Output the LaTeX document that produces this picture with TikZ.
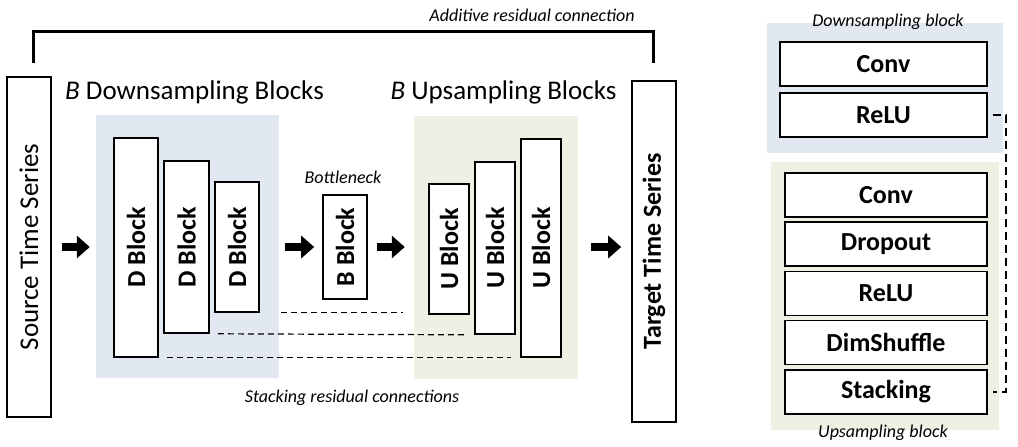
\documentclass[tikz,border=0pt]{standalone}
\usepackage{fontspec}
\setmainfont{Carlito}
\usetikzlibrary{arrows.meta}
\definecolor{dblue}{RGB}{225,232,242}
\definecolor{ugreen}{RGB}{238,240,228}
\tikzset{
  blk/.style={draw, line width=1.6pt, fill=white, inner sep=0pt, font=\fontsize{26}{30}\selectfont\bfseries},
  panel/.style={inner sep=0pt, draw=none},
  fatarrow/.style={line width=8pt, -{Triangle[length=13pt,width=22pt]}},
  stackres/.style={line width=1.2pt, dash pattern=on 6pt off 4pt},
  skipline/.style={line width=2pt, dash pattern=on 8pt off 5pt},
  addline/.style={line width=3pt},
  lbl/.style={font=\fontsize{18}{20}\selectfont\itshape, anchor=base},
  head/.style={font=\fontsize{27}{30}\selectfont, anchor=base}
}
\begin{document}
\begin{tikzpicture}[x=1pt, y=-1pt]
\useasboundingbox (0,0) rectangle (1018,447);
% panels
\node[panel, fill=dblue, minimum width=183, minimum height=263] (dpan) at (187.5,246.5) {};
\node[panel, fill=ugreen, minimum width=164, minimum height=263] (upan) at (496,247.5) {};
\node[panel, fill=dblue, minimum width=236, minimum height=130] (rdpan) at (885,88) {};
\node[panel, fill=ugreen, minimum width=228, minimum height=268] (rupan) at (885,296) {};
% time series
\node[blk, font=\fontsize{27}{30}\selectfont, minimum width=44, minimum height=340] (src) at (29,247) {\rotatebox{90}{Source Time Series}};
\node[blk, minimum width=44, minimum height=341] (tgt) at (654,251.5) {\rotatebox{90}{Target Time Series}};
\node[head] (dhead) at (194.5,99) {\textit{B} Downsampling Blocks};
\node[head] (uhead) at (503.5,99) {\textit{B} Upsampling Blocks};
% blocks
\node[blk, minimum width=44, minimum height=219] (d1) at (136,247.5) {\rotatebox{90}{D Block}};
\node[blk, minimum width=45, minimum height=172] (d2) at (186.5,247) {\rotatebox{90}{D Block}};
\node[blk, minimum width=44, minimum height=130] (d3) at (237,247) {\rotatebox{90}{D Block}};
\node[blk, minimum width=44, minimum height=104] (bb) at (345,247) {\rotatebox{90}{B Block}};
\node[blk, minimum width=40, minimum height=130] (u1) at (449,249) {\rotatebox{90}{U Block}};
\node[blk, minimum width=40, minimum height=172] (u2) at (495,248) {\rotatebox{90}{U Block}};
\node[blk, minimum width=40, minimum height=218] (u3) at (541,248) {\rotatebox{90}{U Block}};
\node[lbl] (bneck) at (343,183) {Bottleneck};
\node[lbl] (stlbl) at (352,402) {Stacking residual connections};
% stacking residual connections
\draw[stackres] ([xshift=2pt]dpan.east |- d3.south) -- ([xshift=-25pt]u1.west |- d3.south);
\draw[stackres] ([xshift=8pt]d2.south east) -- ([xshift=-10pt]u2.south west);
\draw[stackres] ([xshift=8pt]d1.south east) -- ([xshift=-9pt]u3.south west);
% arrows
\draw[fatarrow] ([xshift=10pt]src.east) -- ([xshift=-6pt]dpan.west |- src.east);
\draw[fatarrow] ([xshift=6pt]dpan.east |- bb.west) -- ([xshift=-8pt]bb.west);
\draw[fatarrow] ([xshift=9pt]bb.east) -- ([xshift=-9pt]upan.west |- bb.east);
\draw[fatarrow] ([xshift=13pt]upan.east |- src.east) -- ([xshift=-10pt]tgt.west |- src.east);
% additive residual connection
\draw[addline] ([xshift=4pt,yshift=13pt]src.north) -- ++(0,-32) -| ([xshift=-1pt,yshift=17pt]tgt.north);
\node[lbl] (addlbl) at (532,21) {Additive residual connection};
% block details
\node[lbl] (rdlbl) at (888,27) {Downsampling block};
\node[blk, minimum width=207, minimum height=44] (rdconv) at (883.5,64) {Conv};
\node[blk, minimum width=207, minimum height=44] (rdrelu) at (883.5,115) {ReLU};
\node[blk, minimum width=202, minimum height=44] (ruconv) at (886,195) {Conv};
\node[blk, minimum width=202, minimum height=44] (rudrop) at (886,244) {Dropout};
\node[blk, minimum width=202, minimum height=44] (rurelu) at (886,293.5) {ReLU};
\node[blk, minimum width=202, minimum height=44] (rudim) at (886,342.5) {DimShuffle};
\node[blk, minimum width=202, minimum height=44] (rustack) at (886,392) {Stacking};
\node[lbl] (rulbl) at (883,437) {Upsampling block};
\draw[skipline] ([xshift=5pt]rdrelu.east) -- ++(13,0) |- ([xshift=5pt]rustack.east);
\end{tikzpicture}
\end{document}
